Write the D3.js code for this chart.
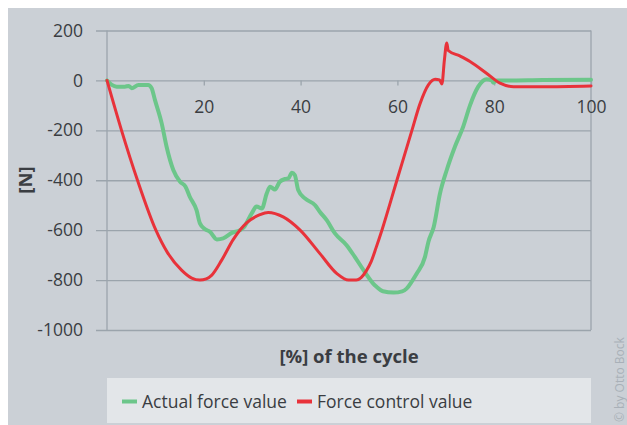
<!DOCTYPE html>
<html>
<head>
<meta charset="utf-8">
<script src="https://cdn.jsdelivr.net/npm/d3@7"></script>
<style>
  body { margin: 0; background: #ffffff; }
  text { font-family: "Open Sans", sans-serif; fill: #3a3d42; }
</style>
</head>
<body>
<div id="chart"></div>
<script>
// data: % of the cycle vs force [N]
var actualPct = [0, 1, 2, 3.7, 4.5, 5.1, 6.5, 8.5, 9.2, 9.9, 11.3, 12.3, 13.7, 15.1, 16.2, 17.1, 18.5, 19.2, 20.2, 21.3,
  22.7, 24, 25.8, 27.5, 28.2, 29.9, 30.9, 32, 33, 33.7, 34.7, 35.7, 36.8, 37.5, 38.2, 38.8, 39.5, 40.9, 43, 44,
  45.4, 47.1, 49.5, 51.2, 53, 55, 55.7, 57, 59.2, 61, 61.9, 63, 64, 65.7, 66.4, 67.5, 68.8, 70.2, 71.9, 73.6,
  75, 76.7, 78.4, 79.5, 79.8, 80.5, 82.6, 90, 100];
var actualForce = [0, -18, -25, -25, -22, -31, -18, -18, -30, -78, -172, -265, -359, -406, -425, -466, -520, -573, -595, -607,
  -637, -633, -611, -600, -590, -533, -505, -513, -453, -426, -437, -406, -395, -392, -370, -379, -439, -473, -500, -527,
  -560, -613, -660, -707, -760, -814, -827, -845, -850, -845, -834, -805, -774, -707, -647, -587, -453, -359, -265, -185,
  -100, -25, 5, 0, -9, 0, 0, 2, 3];

var controlPct = [0, 3, 6.3, 10.1, 12.5, 15.4, 17.5, 19.2, 20.5, 21.6, 23.7, 26.1, 28.9, 31.6, 33.3, 36.4, 39.9, 44, 47.5, 49.9,
  51.5, 52.5, 53.6, 54.6, 55.6, 56.8, 59.9, 63, 64.7, 66.4, 67.8, 68.7, 69.2, 69.7, 70.2, 70.5, 72.9, 75, 78.4, 81.2,
  84, 90, 100];
var controlForce = [0, -200, -400, -600, -690, -760, -792, -800, -795, -781, -720, -637, -570, -538, -529, -547, -600, -694, -774, -800,
  -800, -790, -762, -725, -670, -600, -400, -200, -92, -18, 5, 2, -14, 80, 150, 120, 98, 76, 29, -11,
  -25, -25, -22];

var xTicks = [20, 40, 60, 80, 100];
var yTicks = [200, 0, -200, -400, -600, -800, -1000];
var seriesNames = ["Actual force value", "Force control value"];
var seriesColors = ["#6cc68a", "#e8323a"];

var svgWidth = 627;
var svgHeight = 425;

var margin = { top: 30.5, right: 36, bottom: 95, left: 107 };
var width = svgWidth - margin.left - margin.right;
var height = svgHeight - margin.top - margin.bottom;

var svg = d3.select("#chart")
  .append("svg")
  .attr("width", svgWidth)
  .attr("height", svgHeight);

// grey panel
svg.append("rect")
  .attr("x", 8).attr("y", 8)
  .attr("width", svgWidth - 8).attr("height", svgHeight - 8)
  .attr("fill", "#cbd0d6");

var g = svg.append("g")
  .attr("transform", `translate(${margin.left}, ${margin.top})`);

var xScale = d3.scaleLinear().domain([0, 100]).range([0, width]);
var yScale = d3.scaleLinear().domain([-1000, 200]).range([height, 0]);

var gridColor = "#9ba4ac";

// horizontal gridlines + y axis (plain hyphen for negatives, as in the original)
var yAxis = d3.axisLeft(yScale)
  .tickValues(yTicks)
  .tickSize(11)
  .tickPadding(13)
  .tickFormat(d => String(d));

var yAxisG = g.append("g").call(yAxis);
yAxisG.select(".domain").remove();
yAxisG.selectAll(".tick line")
  .attr("x2", width)
  .attr("x1", -11)
  .attr("stroke", gridColor)
  .attr("stroke-width", 1.3);
yAxisG.selectAll(".tick text")
  .style("font-family", "'Open Sans', sans-serif")
  .style("font-size", "17.5px")
  .attr("fill", "#3a3d42");

// plot frame: left and right edges
g.append("line")
  .attr("x1", 0).attr("x2", 0).attr("y1", 0).attr("y2", height)
  .attr("stroke", gridColor).attr("stroke-width", 1.3);
g.append("line")
  .attr("x1", width).attr("x2", width).attr("y1", 0).attr("y2", height)
  .attr("stroke", gridColor).attr("stroke-width", 1.3);

// x axis sits on the zero line
var xAxis = d3.axisBottom(xScale)
  .tickValues(xTicks)
  .tickSize(5)
  .tickPadding(15)
  .tickFormat(d => String(d));

var xAxisG = g.append("g")
  .attr("transform", `translate(0, ${yScale(0)})`)
  .call(xAxis);
xAxisG.select(".domain").remove();
xAxisG.selectAll(".tick line")
  .attr("stroke", gridColor)
  .attr("stroke-width", 1.3);
xAxisG.selectAll(".tick text")
  .style("font-family", "'Open Sans', sans-serif")
  .style("font-size", "17.5px")
  .attr("fill", "#3a3d42");

// lines
var series = [
  { pct: actualPct, force: actualForce, width: 4 },
  { pct: controlPct, force: controlForce, width: 3 }
];

var fnLine = d3.line()
  .x(d => xScale(d[0]))
  .y(d => yScale(d[1]))
  .curve(d3.curveMonotoneX);

series.forEach((s, i) => {
  var pts = s.pct.map((p, j) => [p, s.force[j]]);
  g.append("path")
    .datum(pts)
    .attr("d", fnLine)
    .attr("fill", "none")
    .attr("stroke", seriesColors[i])
    .attr("stroke-width", s.width)
    .attr("stroke-linejoin", "round")
    .attr("stroke-linecap", "round");
});

// axis titles
svg.append("text")
  .attr("transform", "translate(32, 180) rotate(-90)")
  .attr("text-anchor", "middle")
  .style("font-size", "18.5px")
  .style("font-weight", "bold")
  .text("[N]");

svg.append("text")
  .attr("x", 349)
  .attr("y", 363)
  .attr("text-anchor", "middle")
  .style("font-size", "18.5px")
  .style("font-weight", "bold")
  .text("[%] of the cycle");

// legend
svg.append("rect")
  .attr("x", margin.left).attr("y", 378)
  .attr("width", width).attr("height", 45)
  .attr("fill", "#e3e6e9");

var legendX = [122, 297];
seriesNames.forEach((name, i) => {
  svg.append("line")
    .attr("x1", legendX[i]).attr("x2", legendX[i] + 15)
    .attr("y1", 401.5).attr("y2", 401.5)
    .attr("stroke", seriesColors[i])
    .attr("stroke-width", 4);
  svg.append("text")
    .attr("x", legendX[i] + 20)
    .attr("y", 408)
    .style("font-size", "17.5px")
    .text(name);
});

// copyright
svg.append("text")
  .attr("transform", "translate(624, 422) rotate(-90)")
  .style("font-size", "12px")
  .style("fill", "#a9b0b8")
  .text("© by Otto Bock");
</script>
</body>
</html>
